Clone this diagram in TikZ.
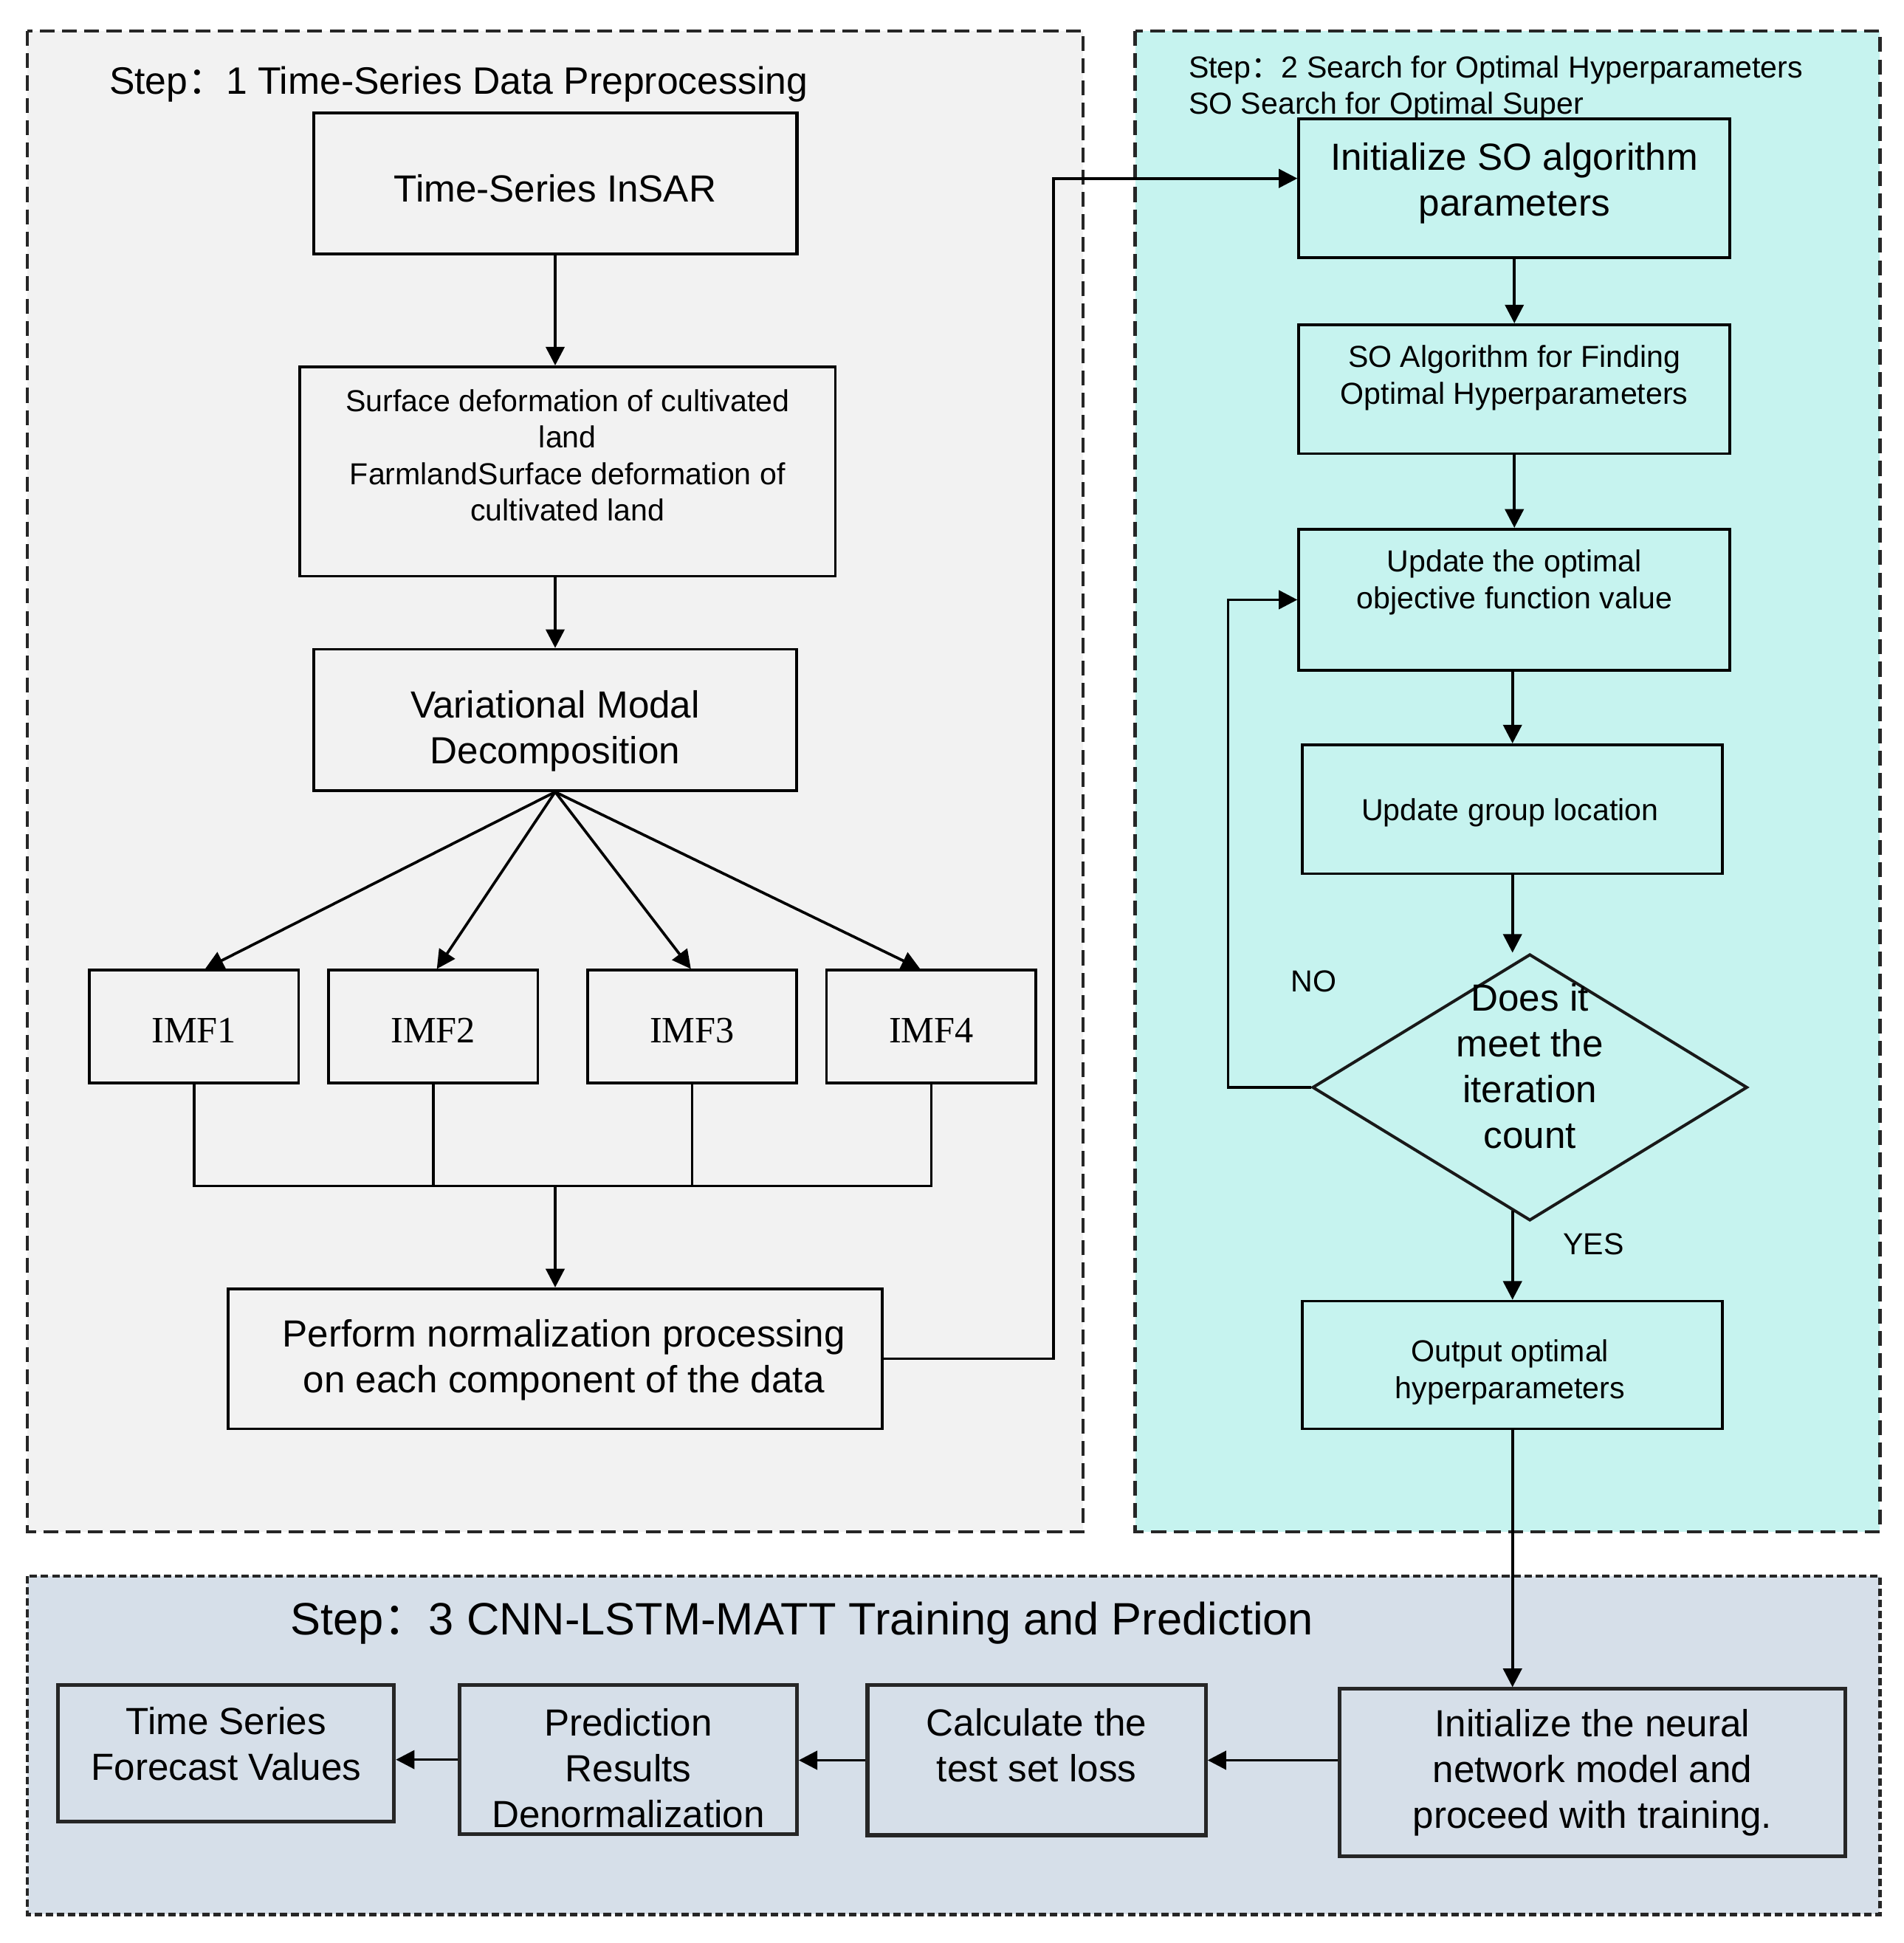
\documentclass[tikz,border=0pt]{standalone}
\usepackage{fontspec}
\setmainfont{Liberation Sans}
\newfontfamily\cjkfont{Noto Sans CJK SC}
\newfontfamily\timesfont{Liberation Serif}
\usetikzlibrary{arrows.meta,calc,shapes.geometric}
\definecolor{zoneA}{RGB}{242,242,242}
\definecolor{zoneB}{RGB}{198,243,239}
\definecolor{zoneC}{RGB}{214,223,233}
\newcommand{\fcolon}{{\cjkfont ：}}
\begin{document}
\begin{tikzpicture}[x=1pt,y=-1pt,
  box/.style={draw=black, line width=2.2pt, inner sep=0pt, align=center},
  thickbox/.style={box, draw=black!85, line width=3pt},
  bigtxt/.style={font=\fontsize{30.5}{37}\selectfont, align=center, inner sep=0pt},
  smalltxt/.style={font=\fontsize{24.5}{29.5}\selectfont, align=center, inner sep=0pt},
  imftxt/.style={font=\timesfont\fontsize{30}{36}\selectfont},
  conn/.style={line width=2.2pt, -{Triangle[length=15pt,width=15pt]}},
  plainline/.style={line width=2.2pt},
  zone/.style={draw=black!85, line width=2.5pt, dash pattern=on 12pt off 6pt}
]
\path[fill=white] (0,0) rectangle (1536,1568);
\useasboundingbox (0,0) rectangle (1536,1568);

% zones
\draw[zone, fill=zoneA] (22,25) rectangle (874,1236);
\draw[zone, fill=zoneB] (916,25) rectangle (1517,1236);
\draw[zone, fill=zoneC, dash pattern=on 6pt off 3pt] (22,1272) rectangle (1517,1545);

% titles
\node[anchor=west, font=\fontsize{30.8}{36}\selectfont, inner sep=0pt] (t1) at (88,68) {Step\fcolon 1 Time-Series Data Preprocessing};
\node[anchor=west, align=left, font=\fontsize{24.5}{29.5}\selectfont, inner sep=0pt] (t2) at (959,71) {Step\fcolon 2 Search for Optimal Hyperparameters\\SO Search for Optimal Super};
\node[anchor=west, font=\fontsize{36.6}{42}\selectfont, inner sep=0pt] (t3) at (234,1310) {Step\fcolon 3 CNN-LSTM-MATT Training and Prediction};

% step 1
\node[box, fill=zoneA, minimum width=390, minimum height=114, line width=2.6pt] (tsi) at (448,148) {};
\node[bigtxt] (tsitxt) at ($(tsi.center)+(0,4)$) {Time-Series InSAR};
\node[box, fill=zoneA, minimum width=432, minimum height=169] (sd) at (458,380.5) {};
\node[smalltxt] (sdtxt) at ($(sd.center)+(0,-13)$) {Surface deformation of cultivated\\land\\FarmlandSurface deformation of\\cultivated land};
\node[box, fill=zoneA, minimum width=390, minimum height=114] (vmd) at (448,581) {};
\node[bigtxt] (vmdtxt) at ($(vmd.center)+(0,9)$) {Variational Modal\\Decomposition};
\node[box, fill=zoneA, minimum width=169, minimum height=91] (imf1) at (156.5,828.5) {};
\node[box, fill=zoneA, minimum width=169, minimum height=91] (imf2) at (349.5,828.5) {};
\node[box, fill=zoneA, minimum width=169, minimum height=91] (imf3) at (558.5,828.5) {};
\node[box, fill=zoneA, minimum width=169, minimum height=91] (imf4) at (751.5,828.5) {};
\node[imftxt] (imf1txt) at ($(imf1.center)+(0,3)$) {IMF1};
\node[imftxt] (imf2txt) at ($(imf2.center)+(0,3)$) {IMF2};
\node[imftxt] (imf3txt) at ($(imf3.center)+(0,3)$) {IMF3};
\node[imftxt] (imf4txt) at ($(imf4.center)+(0,3)$) {IMF4};
\node[box, fill=zoneA, minimum width=528, minimum height=113] (norm) at (448,1096.5) {};
\node[bigtxt] (normtxt) at ($(norm.center)+(7,1)$) {Perform normalization processing\\on each component of the data};

% step 2
\node[box, fill=zoneB, minimum width=348, minimum height=112] (init) at (1222,152) {};
\node[bigtxt] (inittxt) at ($(init.center)+(0,-4)$) {Initialize SO algorithm\\parameters};
\node[box, fill=zoneB, minimum width=348, minimum height=104] (soalg) at (1222,314) {};
\node[smalltxt] (soalgtxt) at ($(soalg.center)+(0,-9)$) {SO Algorithm for Finding\\Optimal Hyperparameters};
\node[box, fill=zoneB, minimum width=348, minimum height=114] (upopt) at (1222,484) {};
\node[smalltxt] (upopttxt) at ($(upopt.center)+(0,-14)$) {Update the optimal\\objective function value};
\node[box, fill=zoneB, minimum width=339, minimum height=104] (upgrp) at (1220.5,653) {};
\node[smalltxt] (upgrptxt) at ($(upgrp.center)+(-2,3)$) {Update group location};
\node[diamond, draw=black!90, line width=2.4pt, fill=zoneB, inner sep=0pt, minimum width=351, minimum height=215] (dia) at (1234.5,877.5) {};
\node[bigtxt] (diatxt) at ($(dia.center)+(0,-17)$) {Does it\\meet the\\iteration\\count};
\node[box, fill=zoneB, minimum width=339, minimum height=103] (out) at (1220.5,1101.5) {};
\node[smalltxt] (outtxt) at ($(out.center)+(-2,6)$) {Output optimal\\hyperparameters};
\node[smalltxt] (nolab) at (1060,792) {NO};
\node[smalltxt] (yeslab) at (1286,1004) {YES};

% step 3
\node[thickbox, fill=zoneC, minimum width=271, minimum height=110] (tsf) at (182.5,1415) {};
\node[bigtxt] (tsftxt) at ($(tsf.center)+(0,-7.5)$) {Time Series\\Forecast Values};
\node[thickbox, fill=zoneC, minimum width=272, minimum height=120] (pred) at (507,1420) {};
\node[bigtxt] (predtxt) at ($(pred.center)+(0,7)$) {Prediction\\Results\\Denormalization};
\node[thickbox, fill=zoneC, minimum width=273, minimum height=121] (calc) at (836.5,1420.5) {};
\node[bigtxt] (calctxt) at ($(calc.center)+(0,-12)$) {Calculate the\\test set loss};
\node[thickbox, fill=zoneC, minimum width=408, minimum height=135] (initnn) at (1285,1430.5) {};
\node[bigtxt] (initnntxt) at (initnn.center) {Initialize the neural\\network model and\\proceed with training.};

% connectors step 1
\draw[conn] (tsi.south) -- (tsi.south |- sd.north);
\draw[conn] (vmd.north |- sd.south) -- (vmd.north);
\draw[conn] (vmd.south) -- ($(imf1.north)+(9,0)$);
\draw[conn] (vmd.south) -- ($(imf2.north)+(3,0)$);
\draw[conn] (vmd.south) -- ($(imf3.north)+(-1,0)$);
\draw[conn] (vmd.south) -- ($(imf4.north)+(-9,0)$);
\coordinate (bus) at (448,957);
\draw[plainline] (imf1.south) |- (imf4.south |- bus) -- (imf4.south);
\draw[plainline] (imf2.south) -- (imf2.south |- bus);
\draw[plainline] (imf3.south) -- (imf3.south |- bus);
\draw[conn] (bus) -- (bus |- norm.north);
\coordinate (bend1) at (850,144);
\draw[conn] (norm.east) -| (bend1) -- (bend1 -| init.west);

% connectors step 2
\draw[conn] (init.south) -- (soalg.north);
\draw[conn] (soalg.south) -- (upopt.north);
\draw[conn] (upgrp.north |- upopt.south) -- (upgrp.north);
\draw[conn] (upgrp.south) -- (upgrp.south |- dia.north);
\draw[conn] ($(out.north |- dia.south)+(0,-9)$) -- (out.north);
\coordinate (loop) at (991,484);
\draw[conn] (dia.west) -| (loop) -- (upopt.west);
\draw[conn] (out.south) -- (out.south |- initnn.north);

% connectors step 3
\draw[conn] (initnn.west |- calc.east) -- (calc.east);
\draw[conn] (calc.west) -- (calc.west -| pred.east);
\draw[conn] (pred.west) -- (pred.west -| tsf.east);
\end{tikzpicture}
\end{document}
